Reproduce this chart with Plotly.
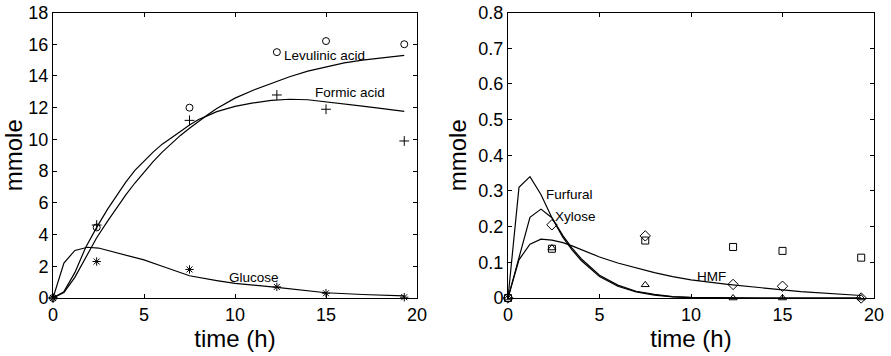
import plotly.graph_objects as go

# ---- Left panel data ----
t_meas = [0, 2.4, 7.5, 12.3, 15.0, 19.3]
levulinic_meas = [0, 4.45, 12.0, 15.5, 16.2, 16.0]
formic_meas = [0, 4.6, 11.2, 12.8, 11.9, 9.9]
glucose_meas = [0, 2.3, 1.8, 0.7, 0.3, 0.05]

t_acid_model = [0, 0.6, 1.2, 1.8, 2.4, 3.0, 3.5, 4.0, 4.5, 5.0, 5.5, 6.0, 6.5, 7.0, 7.5,
                8.0, 8.5, 9.0, 10.0, 11.0, 12.0, 13.0, 14.0, 15.0, 16.0, 17.0, 18.0, 19.3]
formic_model = [0, 0.4, 1.6, 3.2, 4.45, 5.6, 6.45, 7.3, 8.05, 8.65, 9.2, 9.7, 10.12, 10.5, 10.9,
                11.25, 11.5, 11.75, 12.08, 12.3, 12.46, 12.53, 12.5, 12.38, 12.25, 12.1, 11.95, 11.76]
levulinic_model = [0, 0.35, 1.3, 2.6, 3.8, 4.85, 5.7, 6.5, 7.25, 7.95, 8.6, 9.2, 9.75, 10.25, 10.7,
                   11.15, 11.55, 11.95, 12.6, 13.1, 13.55, 13.95, 14.3, 14.58, 14.82, 15.0, 15.15, 15.3]

t_glu_model = [0, 0.6, 1.2, 1.9, 2.5, 3.5, 5.0, 6.0, 7.5, 9.0, 10.0, 12.3, 15.0, 17.0, 19.3]
glucose_model = [0, 2.2, 3.0, 3.2, 3.15, 2.85, 2.4, 2.0, 1.4, 1.1, 0.92, 0.67, 0.33, 0.22, 0.13]

# ---- Right panel data ----
square_meas = [0, 0.138, 0.161, 0.143, 0.132, 0.113]
diamond_meas = [0, 0.205, 0.174, 0.038, 0.033, 0.0]
triangle_meas = [0, 0.14, 0.037, 0, 0, 0]

t_small_model = [0, 0.6, 1.2, 1.8, 2.4, 3.0, 3.5, 4.0, 5.0, 6.0, 7.0, 8.0, 9.0, 10.0, 12.0, 14.0, 16.0, 19.3]
furfural_model = [0, 0.31, 0.34, 0.29, 0.225, 0.17, 0.135, 0.105, 0.06, 0.033, 0.017, 0.008, 0.003, 0.001, 0, 0, 0, 0]
xylose_model = [0, 0.115, 0.226, 0.249, 0.225, 0.175, 0.14, 0.11, 0.064, 0.036, 0.019, 0.01, 0.004, 0.002, 0, 0, 0, 0]
hmf_model = [0, 0.107, 0.151, 0.165, 0.162, 0.155, 0.146, 0.136, 0.115, 0.098, 0.084, 0.071, 0.06, 0.051, 0.038, 0.027, 0.018, 0.007]

FONT = "Liberation Sans, Arial, sans-serif"
BLACK = "black"

fig = go.Figure()

def line(x, y, xa, ya):
    fig.add_trace(go.Scatter(x=x, y=y, mode="lines", line=dict(color=BLACK, width=1.2),
                             xaxis=xa, yaxis=ya, showlegend=False, hoverinfo="skip"))

def marks(x, y, sym, xa, ya, size=7):
    fig.add_trace(go.Scatter(x=x, y=y, mode="markers", cliponaxis=False,
                             marker=dict(symbol=sym, size=size, color=BLACK,
                                         line=dict(color=BLACK, width=1)),
                             xaxis=xa, yaxis=ya, showlegend=False, hoverinfo="skip"))

# left
line(t_acid_model, levulinic_model, "x", "y")
line(t_acid_model, formic_model, "x", "y")
line(t_glu_model, glucose_model, "x", "y")
marks(t_meas, levulinic_meas, "circle-open", "x", "y")
marks(t_meas, formic_meas, "cross-thin-open", "x", "y", 7)
marks(t_meas, glucose_meas, "asterisk-open", "x", "y", 7)

# right
line(t_small_model, furfural_model, "x2", "y2")
line(t_small_model, xylose_model, "x2", "y2")
line(t_small_model, hmf_model, "x2", "y2")
marks(t_meas, square_meas, "square-open", "x2", "y2", 7)
marks(t_meas, diamond_meas, "diamond-open", "x2", "y2", 8)
marks(t_meas, triangle_meas, "triangle-up-open", "x2", "y2", 7)

axis_common = dict(showline=True, linecolor=BLACK, linewidth=1, mirror="ticks",
                   ticks="inside", ticklen=4, tickcolor=BLACK, showgrid=False,
                   zeroline=False, automargin=False,
                   tickfont=dict(family=FONT, size=18, color=BLACK))

ydom = [1 - 298 / 356, 1 - 12.5 / 356]

fig.update_layout(
    width=891, height=356, margin=dict(l=0, r=0, t=0, b=0, autoexpand=False),
    paper_bgcolor="white", plot_bgcolor="white",
    font=dict(family=FONT, color=BLACK),
    xaxis=dict(domain=[53 / 891, 417 / 891], range=[0, 20], dtick=5, anchor="y",
               title=dict(text="time (h)", font=dict(family=FONT, size=24), standoff=6),
               **axis_common),
    yaxis=dict(domain=ydom, range=[0, 18], dtick=2, anchor="x",
               title=dict(text="mmole", font=dict(family=FONT, size=24), standoff=4),
               **axis_common),
    xaxis2=dict(domain=[508 / 891, 874 / 891], range=[0, 20], dtick=5, anchor="y2",
                title=dict(text="time (h)", font=dict(family=FONT, size=24), standoff=6),
                **axis_common),
    yaxis2=dict(domain=ydom, range=[0, 0.8], dtick=0.1, anchor="x2",
                title=dict(text="mmole", font=dict(family=FONT, size=24), standoff=4),
                **axis_common),
)

labels = [
    ("x", "y", 12.6, 15.3, "Levulinic acid"),
    ("x", "y", 14.3, 12.95, "Formic acid"),
    ("x", "y", 9.55, 1.3, "Glucose"),
    ("x2", "y2", 1.97, 0.289, "Furfural"),
    ("x2", "y2", 2.46, 0.228, "Xylose"),
    ("x2", "y2", 10.2, 0.06, "HMF"),
]
for xa, ya, x, y, txt in labels:
    fig.add_annotation(x=x, y=y, xref=xa, yref=ya, text=txt, showarrow=False,
                       xanchor="left", yanchor="middle",
                       font=dict(family=FONT, size=13.5, color=BLACK))

fig.write_html("out.html")
